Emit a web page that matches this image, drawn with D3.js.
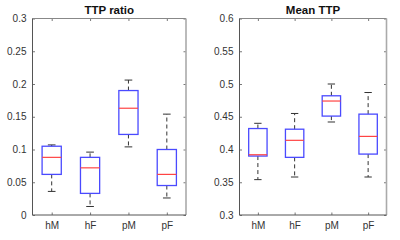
<!DOCTYPE html>
<html><head><meta charset="utf-8">
<script src="https://cdn.jsdelivr.net/npm/d3@7"></script>
<style>body{margin:0;background:#fff}svg{display:block;font-family:"Liberation Sans",Arial,sans-serif}</style>
</head><body><svg id="c" width="400" height="240"></svg>
<script>
const categories = ["hM","hF","pM","pF"];
// [lower whisker, q1, median, q3, upper whisker]
const ttpRatio = [
  [0.036, 0.062, 0.088, 0.105, 0.107],
  [0.013, 0.033, 0.072, 0.088, 0.096],
  [0.104, 0.123, 0.163, 0.190, 0.206],
  [0.026, 0.045, 0.062, 0.100, 0.154]
];
const meanTTP = [
  [0.354, 0.390, 0.392, 0.432, 0.440],
  [0.358, 0.388, 0.414, 0.431, 0.455],
  [0.442, 0.451, 0.474, 0.482, 0.500],
  [0.358, 0.393, 0.420, 0.454, 0.487]
];
const ticksRatio = [0,0.05,0.1,0.15,0.2,0.25,0.3];
const ticksMean = [0.3,0.35,0.4,0.45,0.5,0.55,0.6];

const svg = d3.select("#c");
const panels = [
  {title:"TTP ratio", data:ttpRatio, ticks:ticksRatio, dom:[0,0.3], x0:32.5, x1:186},
  {title:"Mean TTP", data:meanTTP, ticks:ticksMean, dom:[0.3,0.6], x0:239.5, x1:386.5}
];
const yTop = 18.5, yBot = 215;
const fmt = d => d3.format("")(+d.toFixed(2));

panels.forEach(p => {
  const g = svg.append("g");
  const x = d3.scaleLinear().domain([0.5,4.5]).range([p.x0,p.x1]);
  const y = d3.scaleLinear().domain(p.dom).range([yBot,yTop]);
  // axes
  const axL = d3.axisLeft(y).tickValues(p.ticks).tickSize(-2.5).tickPadding(6).tickFormat(fmt);
  const axR = d3.axisRight(y).tickValues(p.ticks).tickSize(-2.5).tickFormat("");
  const axB = d3.axisBottom(x).tickValues([1,2,3,4]).tickSize(-2.5).tickPadding(7).tickFormat((d,i)=>categories[i]);
  const axT = d3.axisTop(x).tickValues([1,2,3,4]).tickSize(-2.5).tickFormat("");
  const style = (sel, col, w) => {
    sel.select(".domain").remove();
    sel.selectAll(".tick line").attr("stroke","#555").attr("stroke-width",0.8);
    sel.selectAll("text").attr("fill","#333").style("font-size","10px").style("font-family","'Liberation Sans',Arial,sans-serif");
  };
  g.append("g").attr("transform",`translate(${p.x0},0)`).call(axL).call(style);
  g.append("g").attr("transform",`translate(${p.x1},0)`).call(axR).call(style);
  g.append("g").attr("transform",`translate(0,${yBot})`).call(axB).call(style);
  g.append("g").attr("transform",`translate(0,${yTop})`).call(axT).call(style);
  // frame
  g.append("line").attr("x1",p.x0).attr("x2",p.x1).attr("y1",yTop).attr("y2",yTop).attr("stroke","#888").attr("stroke-width",1);
  g.append("line").attr("x1",p.x1).attr("x2",p.x1).attr("y1",yTop).attr("y2",yBot).attr("stroke","#aaa").attr("stroke-width",1.6);
  g.append("line").attr("x1",p.x0).attr("x2",p.x1).attr("y1",yBot).attr("y2",yBot).attr("stroke","#555").attr("stroke-width",1);
  g.append("line").attr("x1",p.x0).attr("x2",p.x0).attr("y1",yTop).attr("y2",yBot).attr("stroke","#555").attr("stroke-width",1);
  // title
  g.append("text").attr("x",(p.x0+p.x1)/2).attr("y",13.5).attr("text-anchor","middle")
    .style("font-size","11.5px").style("font-weight","bold").attr("fill","#111").text(p.title);
  // boxes
  p.data.forEach((d,i) => {
    const c = i+1, bw = 0.25, cw = 0.1;
    const b = g.append("g");
    // whiskers
    b.append("line").attr("x1",x(c)).attr("x2",x(c)).attr("y1",y(d[3])).attr("y2",y(d[4]))
      .attr("stroke","#333").attr("stroke-dasharray","4,3");
    b.append("line").attr("x1",x(c)).attr("x2",x(c)).attr("y1",y(d[1])).attr("y2",y(d[0]))
      .attr("stroke","#333").attr("stroke-dasharray","4,3");
    [d[0],d[4]].forEach(v => b.append("line").attr("x1",x(c-cw)).attr("x2",x(c+cw))
      .attr("y1",y(v)).attr("y2",y(v)).attr("stroke","#333"));
    b.append("rect").attr("x",x(c-bw)).attr("width",x(c+bw)-x(c-bw))
      .attr("y",y(d[3])).attr("height",y(d[1])-y(d[3]))
      .attr("fill","none").attr("stroke","#4a4aff").attr("stroke-width",1.3);
    b.append("line").attr("x1",x(c-bw)).attr("x2",x(c+bw)).attr("y1",y(d[2])).attr("y2",y(d[2]))
      .attr("stroke","#ff4444").attr("stroke-width",1.2);
  });
});
</script></body></html>
